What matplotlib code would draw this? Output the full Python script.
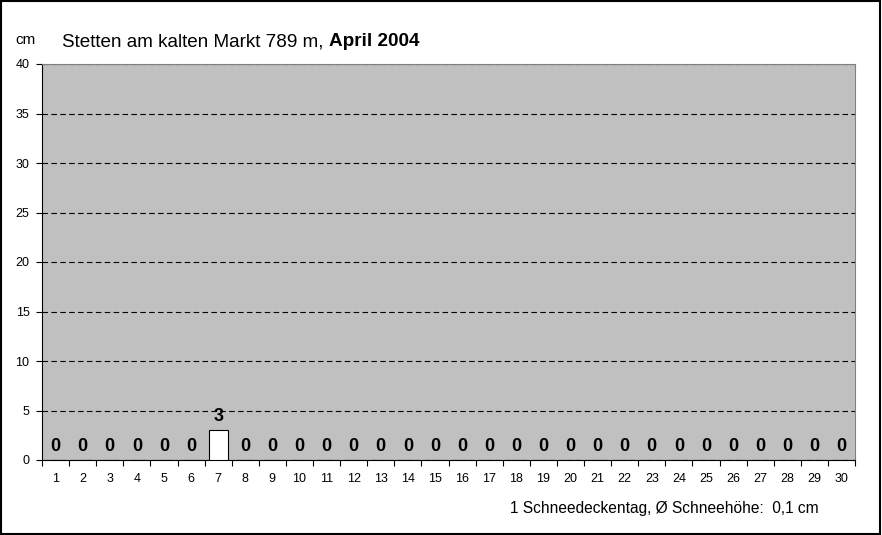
import matplotlib
matplotlib.use("Agg")
import matplotlib.pyplot as plt
from matplotlib.patches import Rectangle

plt.rcParams['font.family'] = ['Liberation Sans', 'DejaVu Sans']

days = list(range(1, 31))
snow = [0, 0, 0, 0, 0, 0, 3] + [0] * 23
yticks = [0, 5, 10, 15, 20, 25, 30, 35, 40]
title_normal = "Stetten am kalten Markt 789 m, "
title_bold = "April 2004"
footer = "1 Schneedeckentag, Ø Schneehöhe:  0,1 cm"

W, H = 882, 535
fig = plt.figure(figsize=(W / 100, H / 100), dpi=100)
fig.patch.set_facecolor("white")
fig.patches.append(Rectangle((0.001, 0.002), 0.997, 0.996, transform=fig.transFigure,
                             fill=False, edgecolor="black", linewidth=1.5))

ax = fig.add_axes([42 / W, 1 - 460 / H, (855 - 42) / W, (460 - 64) / H])
ax.set_facecolor("#c0c0c0")
x = list(range(len(days)))
ax.bar(x, snow, width=0.7, color="white", edgecolor="black", linewidth=0.8, zorder=3)
for xi, v in zip(x, snow):
    ax.annotate(f"{v}", (xi, v), xytext=(0, 3.5), textcoords="offset points",
                ha="center", va="bottom", fontsize=13, fontweight="bold", zorder=4)

ax.set_xlim(-0.5, len(days) - 0.5)
ax.set_ylim(0, 40)
ax.set_yticks(yticks)
ax.set_yticklabels([str(t) for t in yticks], fontsize=9)
ax.yaxis.grid(True, linestyle=(0, (5, 3)), color="black", linewidth=0.8)
ax.set_axisbelow(True)
ax.set_xticks([i - 0.5 for i in range(len(days) + 1)])
ax.set_xticklabels([])
ax.set_xticks(x, minor=True)
ax.set_xticklabels([str(d) for d in days], minor=True, fontsize=9)
ax.tick_params(axis="x", which="minor", length=0, pad=9)
ax.tick_params(axis="x", which="major", length=4, direction="out", color="black")
ax.tick_params(axis="y", length=4, direction="out", pad=5)
for s in ["top", "right"]:
    ax.spines[s].set_color("#808080")
for s in ["left", "bottom"]:
    ax.spines[s].set_color("black")

fig.text(15 / W, 1 - 40 / H, "cm", fontsize=11, va="center", ha="left")
t1 = fig.text(62 / W, 1 - 42 / H, title_normal, fontsize=13.6, va="center", ha="left")
fig.canvas.draw()
bb = t1.get_window_extent()
fig.text(bb.x1 / W, 1 - 42 / H, title_bold, fontsize=13.6, fontweight="bold", va="center", ha="left")
fig.text(510 / W, 1 - 508 / H, footer, fontsize=11.2, va="center", ha="left")

fig.savefig("out.png", dpi=100)
